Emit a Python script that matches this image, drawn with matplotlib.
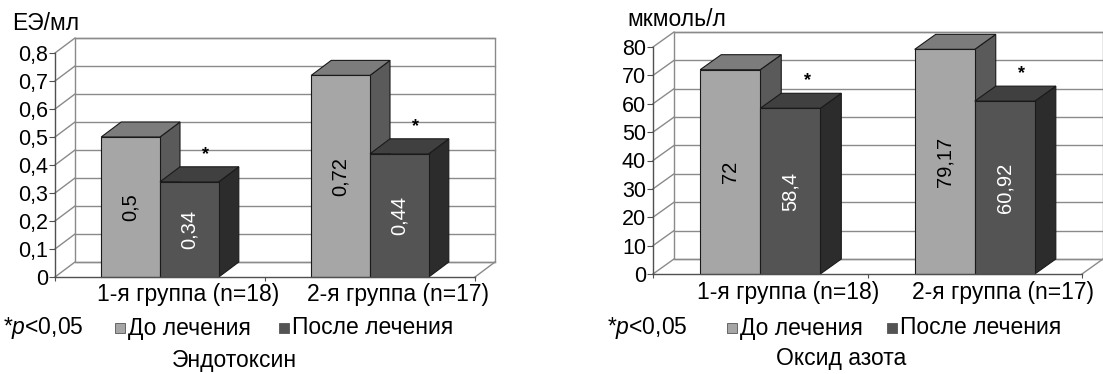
import matplotlib.pyplot as plt
from matplotlib.patches import Polygon, Rectangle
from matplotlib.ticker import FuncFormatter

plt.rcParams['font.family'] = ['Liberation Sans', 'DejaVu Sans']
plt.rcParams['mathtext.fontset'] = 'custom'
plt.rcParams['mathtext.rm'] = 'Liberation Sans'
plt.rcParams['mathtext.it'] = 'Liberation Sans:italic'

# data
groups = ['1-я группа (n=18)', '2-я группа (n=17)']
series = ['До лечения', 'После лечения']
endotoxin_before = [0.5, 0.72]
endotoxin_after = [0.34, 0.44]
nitric_before = [72, 79.17]
nitric_after = [58.4, 60.92]
significant = [True, True]  # after-treatment bars marked with *

W, H = 1103, 374
fig = plt.figure(figsize=(W / 100, H / 100), dpi=100)

# front / top / side shades for the two series
shades = [('#a6a6a6', '#7c7c7c', '#5a5a5a'),
          ('#545454', '#404040', '#2c2c2c')]
edge = '#1a1a1a'
FS = 16.5


def comma(v):
    return f'{v:g}'.replace('.', ',')


def px_axes(left, top, right, bottom):
    return fig.add_axes([left / W, 1 - bottom / H, (right - left) / W, (bottom - top) / H])


def fig_pt(x, y):
    return x / W, 1 - y / H


def draw_panel(ax, before, after, ymax, step, ylabel, ylabel_xy, title, title_xy,
               legend_x, dx=20, dy=15):
    n = len(groups)
    ax.set_xlim(0, n)
    ax.set_ylim(0, ymax)
    bb = ax.get_window_extent()
    ddx = dx / (bb.width / n)
    ddy = dy / (bb.height / ymax)

    for s in ['top', 'right']:
        ax.spines[s].set_visible(False)
    for s in ['left', 'bottom']:
        ax.spines[s].set_color('#505050')
        ax.spines[s].set_linewidth(1.0)
    ax.patch.set_visible(False)

    ticks = [i * step for i in range(int(round(ymax / step)) + 1)]
    ax.set_yticks(ticks)
    ax.yaxis.set_major_formatter(FuncFormatter(lambda v, p: comma(round(v, 3))))
    ax.tick_params(axis='y', length=4, color='#505050', labelsize=15.5, pad=1)
    ax.set_xticks(range(n + 1))
    ax.set_xticklabels([])
    ax.tick_params(axis='x', length=3, color='#505050')

    # back wall and grid
    wall = Rectangle((ddx, ddy), n, ymax, facecolor='white', edgecolor='#8a8a8a',
                     linewidth=1.0, clip_on=False, zorder=0)
    ax.add_patch(wall)
    for t in ticks:
        ax.plot([ddx, n + ddx], [t + ddy, t + ddy], color='#8a8a8a', lw=1.0,
                clip_on=False, zorder=0.5)
        ax.plot([0, ddx], [t, t + ddy], color='#8a8a8a', lw=1.0, clip_on=False, zorder=0.5)
    ax.plot([n, n + ddx], [0, ddy], color='#8a8a8a', lw=1.0, clip_on=False, zorder=0.5)

    width = 0.28
    for g in range(n):
        c = g + 0.5
        for k, vals in enumerate([before, after]):
            h = vals[g]
            x0 = c - width + k * width
            x1 = x0 + width
            front, top, side = shades[k]
            ax.add_patch(Polygon([(x1, 0), (x1 + ddx, ddy), (x1 + ddx, h + ddy), (x1, h)],
                                 closed=True, facecolor=side, edgecolor=edge, lw=0.8,
                                 clip_on=False, zorder=2))
            ax.add_patch(Polygon([(x0, h), (x0 + ddx, h + ddy), (x1 + ddx, h + ddy), (x1, h)],
                                 closed=True, facecolor=top, edgecolor=edge, lw=0.8,
                                 clip_on=False, zorder=2))
            ax.bar(x0, h, width=width, align='edge', color=front, edgecolor=edge,
                   linewidth=0.8, zorder=2, clip_on=False)
            ax.text(c - width / 2 + k * width, h / 2, comma(h), rotation=90,
                    ha='center', va='center', fontsize=14.5,
                    color='black' if k == 0 else 'white', zorder=3)
            if k == 1 and significant[g]:
                ax.annotate('*', xy=(c + width / 2, h), xytext=(dx - 4, dy + 4),
                            textcoords='offset pixels', ha='center', va='bottom',
                            fontsize=13, fontweight='bold', zorder=3)
        ax.annotate(groups[g], xy=(c, 0), xytext=(28, -18), textcoords='offset pixels',
                    ha='center', va='center', fontsize=FS)

    fig.text(*fig_pt(*ylabel_xy), ylabel, ha='left', va='center', fontsize=FS)
    fig.text(*fig_pt(*title_xy), title, ha='center', va='center', fontsize=FS)

    # legend row
    ly = 328
    fig.text(*fig_pt(legend_x[0], ly), '*$p$<0,05', ha='left', va='center', fontsize=FS)
    for k in range(2):
        sx = legend_x[k + 1]
        fig.add_artist(Rectangle(fig_pt(sx, ly + 5), 10 / W, 10 / H,
                                 transform=fig.transFigure, facecolor=shades[k][0],
                                 edgecolor='#555555', lw=0.6))
        fig.text(*fig_pt(sx + 13, ly), series[k], ha='left', va='center', fontsize=FS)


ax1 = px_axes(55, 53, 475, 277)
draw_panel(ax1, endotoxin_before, endotoxin_after, 0.8, 0.1, 'ЕЭ/мл', (12, 23),
           'Эндотоксин', (234, 361), (3, 115, 279), dx=20, dy=15)

ax2 = px_axes(653, 47, 1082, 274)
draw_panel(ax2, nitric_before, nitric_after, 80, 10, 'мкмоль/л', (627, 20),
           'Оксид азота', (841, 359), (607, 727, 887), dx=21, dy=15)

fig.savefig('out.png', dpi=100)
